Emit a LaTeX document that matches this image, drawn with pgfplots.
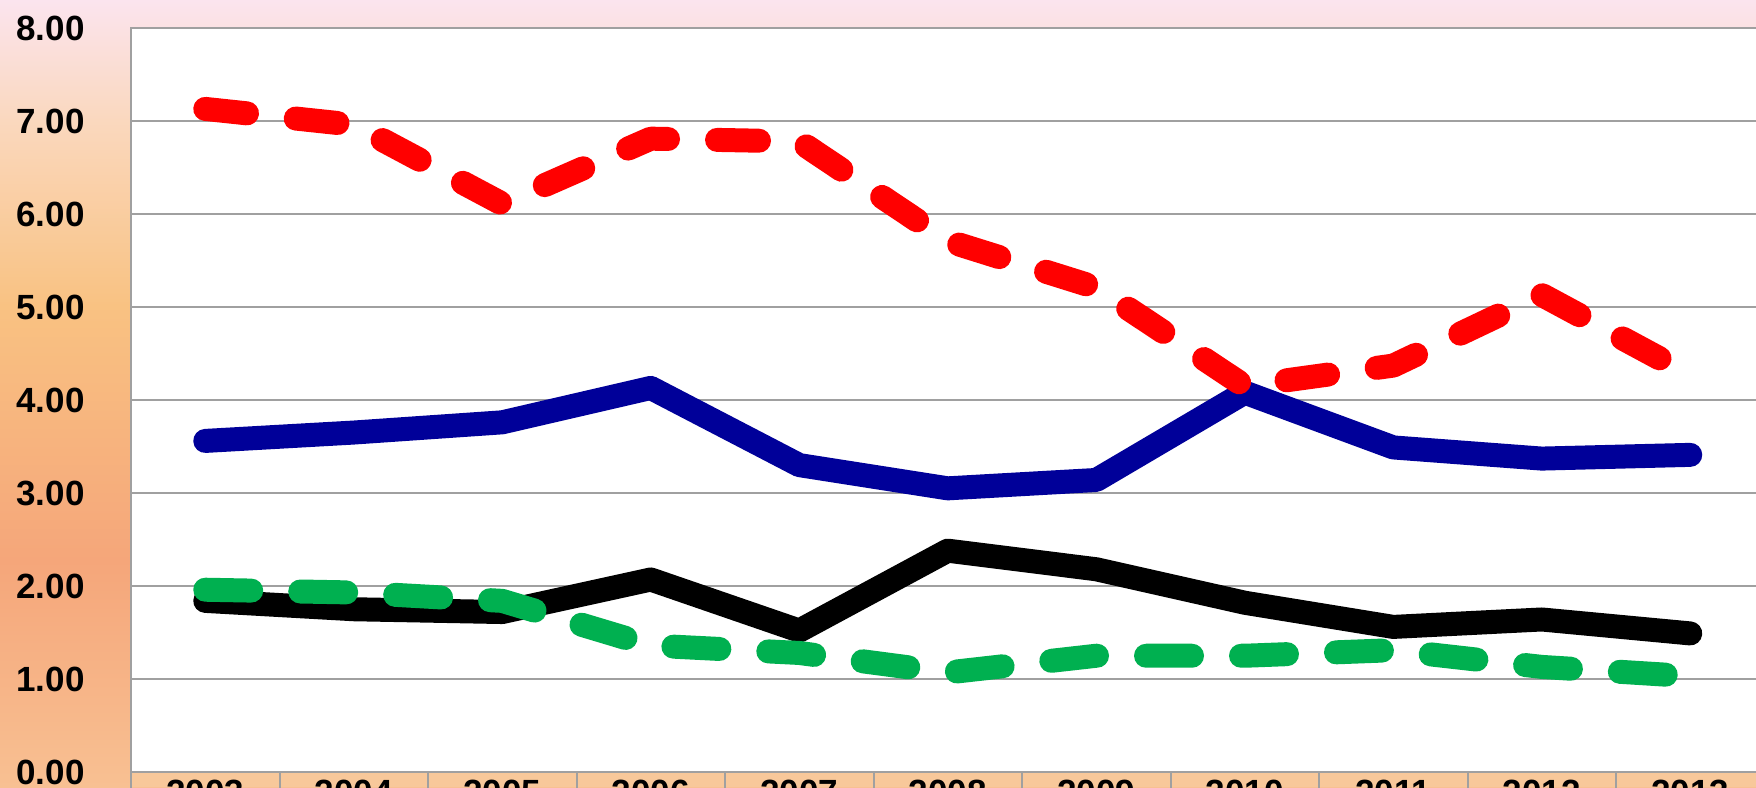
\documentclass[border=0pt]{standalone}
\usepackage{pgfplots}
\pgfplotsset{compat=1.18}
\usepackage{fontspec}
\setmainfont{Liberation Sans}

\definecolor{redline}{HTML}{FF0000}
\definecolor{navyline}{HTML}{000099}
\definecolor{greenline}{HTML}{00B050}
\definecolor{gridgray}{HTML}{A0A0A0}
\definecolor{bandorange}{HTML}{F8C89A}
\definecolor{bgA}{HTML}{FBE4EE}
\definecolor{bgB}{HTML}{FAD8BE}
\definecolor{bgC}{HTML}{F9C282}
\definecolor{bgD}{HTML}{F5A67A}
\definecolor{bgE}{HTML}{F8C092}

\begin{document}
\begin{tikzpicture}
  % background gradient (1px = 0.5pt)
  \shade[top color=bgA, bottom color=bgB] (0,333pt) rectangle (878pt,393.5pt);
  \shade[top color=bgB, bottom color=bgC] (0,240.5pt) rectangle (878pt,333.5pt);
  \shade[top color=bgC, bottom color=bgD] (0,113pt) rectangle (878pt,241pt);
  \shade[top color=bgD, bottom color=bgE] (0,0) rectangle (878pt,113.5pt);
  \fill[bandorange] (65.5pt,0) rectangle (878pt,7.5pt);

  \begin{axis}[
      at={(65.5pt,7.5pt)}, anchor=south west,
      scale only axis,
      width=816.75pt, height=372pt,
      xmin=-0.5, xmax=10.5,
      ymin=0, ymax=8,
      axis background/.style={fill=white},
      axis line style={draw=gridgray, line width=1pt},
      xtick pos=bottom, ytick pos=left,
      xtick={0,...,10},
      xticklabels={2003,2004,2005,2006,2007,2008,2009,2010,2011,2012,2013},
      major x tick style={draw=none},
      extra x ticks={-0.5,0.5,...,10.5},
      extra x tick labels={},
      extra x tick style={tick align=outside, major tick length=8pt,
        major x tick style={draw=gridgray, line width=1pt}},
      xticklabel style={font=\bfseries\fontsize{17.5}{17.5}\selectfont,
        inner sep=0pt, anchor=north, yshift=-4pt},
      ytick={0,1,...,8},
      ymajorgrids,
      major grid style={draw=gridgray, line width=1pt},
      major y tick style={draw=none},
      yticklabel style={font=\bfseries\fontsize{17.5}{17.5}\selectfont,
        inner sep=0pt, anchor=east, xshift=-23pt,
        /pgf/number format/.cd, fixed, fixed zerofill, precision=2,
        assume math mode=true},
      every axis plot/.append style={line width=12pt, line cap=round,
        line join=round},
      clip=false,
  ]
  % blue
  \addplot[navyline] coordinates {
      (0,3.56) (1,3.65) (2,3.76) (3,4.13) (4,3.30) (5,3.05)
      (6,3.14) (7,4.08) (8,3.49) (9,3.37) (10,3.41)
  };
  % red dashed
  \addplot[redline, dash pattern=on 21pt off 24.5pt] coordinates {
      (0,7.13) (1,6.96) (2,6.11) (3,6.81) (4,6.78) (5,5.71)
      (6,5.21) (7,4.15) (8,4.37) (9,5.13) (10,4.27)
  };
  % black
  \addplot[black] coordinates {
      (0,1.84) (1,1.75) (2,1.72) (3,2.07) (4,1.52) (5,2.38)
      (6,2.18) (7,1.82) (8,1.56) (9,1.64) (10,1.49)
  };
  % green dashed
  \addplot[greenline, dash pattern=on 23pt off 24.5pt] coordinates {
      (0,1.96) (1,1.93) (2,1.84) (3,1.36) (4,1.28) (5,1.07)
      (6,1.25) (7,1.25) (8,1.31) (9,1.13) (10,1.03)
  };
  \end{axis}
  \pgfresetboundingbox
  \useasboundingbox (0,0) rectangle (878pt,393.5pt);
\end{tikzpicture}
\end{document}
